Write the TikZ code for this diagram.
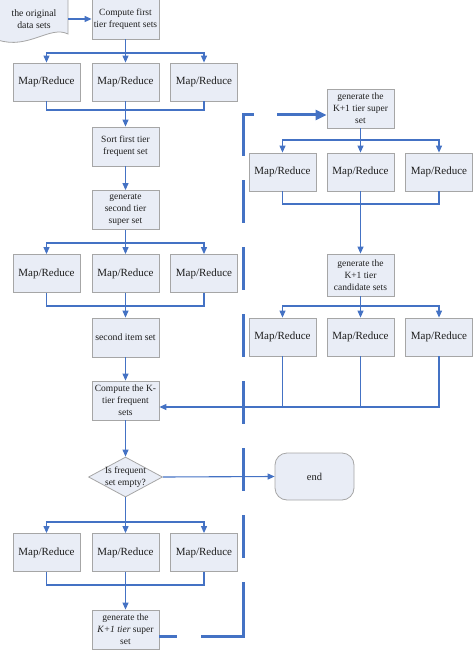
\documentclass[tikz,border=0pt]{standalone}
\usepackage{fontspec}
\setmainfont{Liberation Serif}
\usetikzlibrary{arrows.meta,shapes.geometric,calc}
\definecolor{lblue}{HTML}{4472C4}
\definecolor{bfill}{HTML}{E9EDF6}
\definecolor{bdraw}{HTML}{A6A6A6}
\definecolor{tcol}{HTML}{1E1E1E}
\begin{document}
\begin{tikzpicture}[x=1pt,y=-1pt,
  box/.style={draw=bdraw, fill=bfill, line width=0.8pt, minimum width=67pt, minimum height=39pt,
    inner sep=1pt, align=center, text=tcol, font=\fontsize{9.5}{12.2}\selectfont},
  mr/.style={box, minimum height=38pt, font=\fontsize{11}{13}\selectfont},
  dia/.style={diamond, draw=bdraw, fill=bfill, line width=0.8pt, minimum width=74pt, minimum height=40pt, inner sep=0pt},
  endbox/.style={draw=bdraw, fill=bfill, line width=0.8pt, rounded corners=12pt, minimum width=79pt, minimum height=47pt, text=tcol, font=\fontsize{10.5}{12}\selectfont},
  txt/.style={text=tcol, align=center, font=\fontsize{9.5}{12}\selectfont},
  ln/.style={draw=lblue, line width=1.1pt},
  arr/.style={ln, -{Triangle[length=7pt,width=6pt]}},
  bigdash/.style={draw=lblue, line width=3pt,
    dash pattern=on 18pt off 24pt on 96pt off 24pt on 43pt off 24pt on 43pt off 24pt on 43pt off 24pt on 43pt off 24pt on 43pt off 24pt on 43pt off 24pt on 52pt off 23pt on 80pt,
    -{Triangle[length=11pt,width=10pt]}}
]
\useasboundingbox (0,0) rectangle (474,650);

% document shape
\path[draw=bdraw, fill=bfill, line width=0.8pt] (-2,-2) -- (68,-2) -- (68,34) .. controls (50,25) and (28,50) .. (-2,40) -- cycle;
\node[txt, font=\fontsize{9.8}{12.5}\selectfont, minimum width=68pt] (doc) at (34,19) {the original\\data sets};

% left column
\node[box, minimum height=40pt] (cf) at (125.5,19) {Compute first\\tier frequent sets};
\node[mr] (m1a) at (46.5,82) {Map/Reduce};
\node[mr] (m1b) at (125.5,82) {Map/Reduce};
\node[mr] (m1c) at (204,82) {Map/Reduce};
\node[box] (sf) at (125.5,146.5) {Sort first tier\\frequent set};
\node[box] (gs) at (125.5,210) {generate\\second tier\\super set};
\node[mr] (m2a) at (46.5,273.5) {Map/Reduce};
\node[mr] (m2b) at (125.5,273.5) {Map/Reduce};
\node[mr] (m2c) at (204,273.5) {Map/Reduce};
\node[box, font=\fontsize{9.8}{12}\selectfont] (si) at (125.5,337.5) {second item set};
\node[box] (ck) at (125.5,400.5) {Compute the K-\\tier frequent\\sets};
\node[dia, label={[txt]center:Is frequent\\set empty?}] (dq) at (125.5,477) {};
\node[mr] (m5a) at (46.5,552.5) {Map/Reduce};
\node[mr] (m5b) at (125.5,552.5) {Map/Reduce};
\node[mr] (m5c) at (204,552.5) {Map/Reduce};
\node[box] (gk) at (125.5,629.5) {generate the\\\textit{K+1 tier} super\\set};

% right column
\node[box] (ks) at (360.5,108.5) {generate the\\K+1 tier super\\set};
\node[mr] (m3a) at (282.5,172) {Map/Reduce};
\node[mr] (m3b) at (360.5,172) {Map/Reduce};
\node[mr] (m3c) at (439,172) {Map/Reduce};
\node[box, minimum height=42pt] (kc) at (360.5,275) {generate the\\K+1 tier\\candidate sets};
\node[mr] (m4a) at (282.5,337) {Map/Reduce};
\node[mr] (m4b) at (360.5,337) {Map/Reduce};
\node[mr] (m4c) at (439,337) {Map/Reduce};
\node[endbox] (en) at (314.5,476.5) {end};

% coordinates for branches and merges
\coordinate (br1) at (125.5,53);
\coordinate (mg1) at (125.5,110);
\coordinate (br2) at (125.5,243);
\coordinate (mg2) at (125.5,306);
\coordinate (br5) at (125.5,522);
\coordinate (mg5) at (125.5,585);
\coordinate (br3) at (360.5,140);
\coordinate (mg3) at (360.5,204);
\coordinate (br4) at (360.5,306);
\coordinate (mg4) at (439,407);
\coordinate (d1) at (243,636);
\coordinate (d2) at (243,115);

% connectors
\draw[arr] (doc.east) -- (cf.west);
\draw[arr] (cf) -- (m1b);
\draw[arr] (br1) -| (m1a);
\draw[arr] (br1) -| (m1c);
\draw[ln] (m1a.south) |- (mg1) -| (m1c.south);
\draw[arr] (m1b) -- (sf);
\draw[arr] (sf) -- (gs);
\draw[arr] (gs) -- (m2b);
\draw[arr] (br2) -| (m2a);
\draw[arr] (br2) -| (m2c);
\draw[ln] (m2a.south) |- (mg2) -| (m2c.south);
\draw[arr] (m2b) -- (si);
\draw[arr] (si) -- (ck);
\draw[arr] (ck) -- (dq);
\draw[arr] (dq.east) -- (en.west);
\draw[arr] (dq) -- (m5b);
\draw[arr] (br5) -| (m5a);
\draw[arr] (br5) -| (m5c);
\draw[ln] (m5a.south) |- (mg5) -| (m5c.south);
\draw[arr] (m5b) -- (gk);

\draw[arr] (ks) -- (m3b);
\draw[arr] (br3) -| (m3a);
\draw[arr] (br3) -| (m3c);
\draw[ln] (m3a.south) |- (mg3) -| (m3c.south);
\draw[arr] (m3b) -- (kc);
\draw[arr] (kc) -- (m4b);
\draw[arr] (br4) -| (m4a);
\draw[arr] (br4) -| (m4c);
\draw[arr] (m4c.south) |- (ck.east |- mg4);
\draw[ln] (m4a.south) -- (m4a.south |- mg4);
\draw[ln] (m4b.south) -- (m4b.south |- mg4);

% loop back (thick dashed)
\draw[bigdash] (gk.east |- d1) -- (d1) -- (d2) -- (ks.west |- d2);
\end{tikzpicture}
\end{document}
